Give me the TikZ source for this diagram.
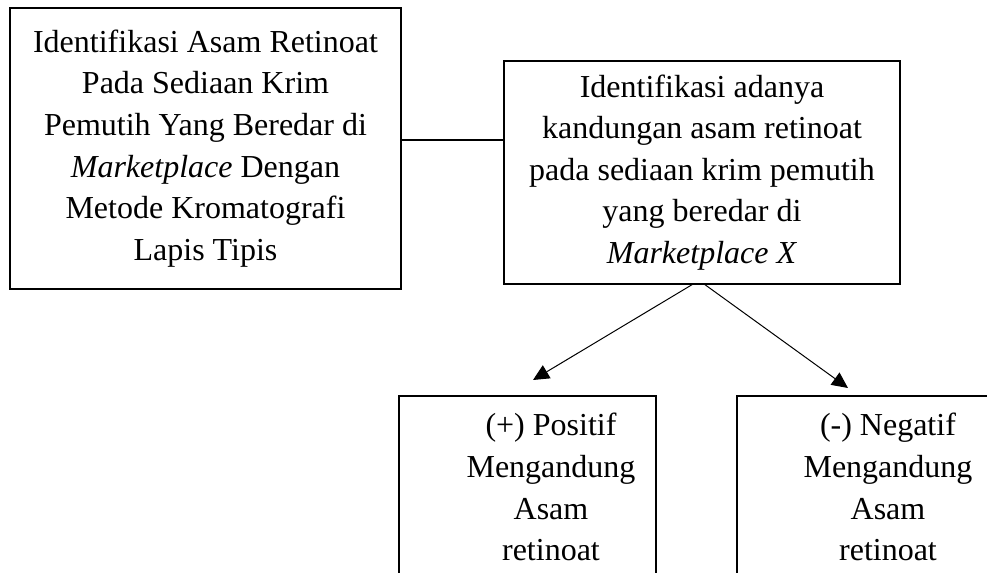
\documentclass[tikz,border=0pt]{standalone}
\usepackage{fontspec}
\setmainfont{Liberation Serif}
\usetikzlibrary{arrows.meta}

\begin{document}
\begin{tikzpicture}[x=0.5pt,y=-0.5pt,
  kotak/.style={draw, rectangle, line width=0.7pt, inner sep=0pt},
  teks/.style={align=center, font=\fontsize{16}{20.8}\selectfont, inner sep=0pt},
  panah/.style={-{Triangle[length=8pt,width=7.5pt]}, line width=0.5pt}]
\useasboundingbox (0,0) rectangle (987,573);
\clip (0,0) rectangle (987,573);
% kotak
\node[kotak, minimum width=195.5pt, minimum height=140.5pt] (judul) at (205.5,148.5) {};
\node[kotak, minimum width=198pt, minimum height=111.5pt] (ident) at (702,172.5) {};
\node[kotak, minimum width=128.5pt, minimum height=110pt] (pos) at (527.5,506) {};
\node[kotak, minimum width=135pt, minimum height=110pt] (neg) at (872,506) {};
% teks
\node[teks] (tjudul) at (judul) {Identifikasi Asam Retinoat\\ Pada Sediaan Krim\\ Pemutih Yang Beredar di\\ \textit{Marketplace} Dengan\\ Metode Kromatografi\\ Lapis Tipis};
\node[teks] (tident) at (ident) {Identifikasi adanya\\ kandungan asam retinoat\\ pada sediaan krim pemutih\\ yang beredar di\\ \textit{Marketplace X}};
\node[teks, anchor=north] (tpos) at (551,413) {(+) Positif\\ Mengandung\\ Asam\\ retinoat};
\node[teks, anchor=north] (tneg) at (888,413) {(-) Negatif\\ Mengandung\\ Asam\\ retinoat};
% garis
\coordinate (tp) at (533,380);
\coordinate (tn) at (848,388);
\draw[line width=0.7pt] ([yshift=4.25pt]judul.east) -- ([yshift=4.25pt]judul.east -| ident.west);
\draw[panah] ([xshift=-5pt]ident.south) -- (tp);
\draw[panah] ([xshift=1.5pt]ident.south) -- (tn);
\end{tikzpicture}
\end{document}
